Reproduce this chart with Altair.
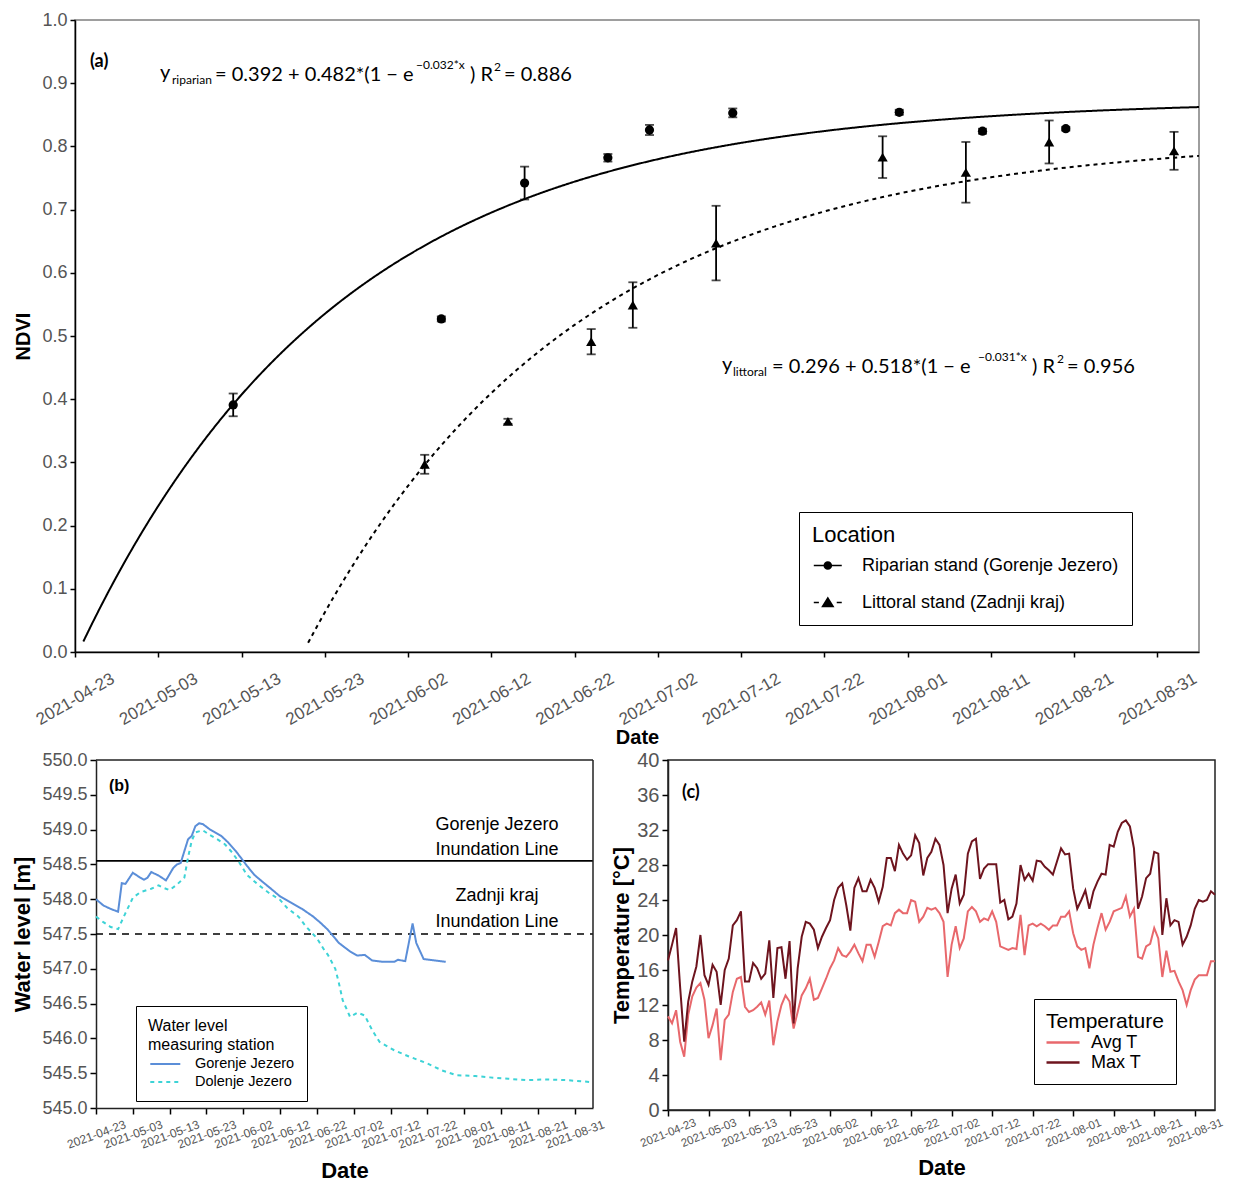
import altair as alt
import pandas as pd
import numpy as np

FONT = "Liberation Sans"
EQF = "Lato"

# ---------------- shared date axis ----------------
tick_labels = ["2021-04-23", "2021-05-03", "2021-05-13", "2021-05-23", "2021-06-02",
               "2021-06-12", "2021-06-22", "2021-07-02", "2021-07-12", "2021-07-22",
               "2021-08-01", "2021-08-11", "2021-08-21", "2021-08-31"]
date_start = "2021-04-23"
date_end = "2021-09-05"


def dt(s):
    return alt.DateTime(year=int(s[:4]), month=int(s[5:7]), date=int(s[8:10]), utc=True)


tick_vals = [dt(s) for s in tick_labels]
x_domain = [dt(date_start), dt(date_end)]
LABEL_EXPR = "utcFormat(datum.value, '%Y-%m-%d')"

# ---------------- panel (a): NDVI ----------------
RIP = "Riparian stand (Gorenje Jezero)"
LIT = "Littoral stand (Zadnji kraj)"
rip_dates = ["2021-05-12", "2021-06-06", "2021-06-16", "2021-06-26", "2021-07-01",
             "2021-07-11", "2021-07-31", "2021-08-10", "2021-08-20"]
rip_ndvi = [0.391, 0.527, 0.742, 0.782, 0.826, 0.853, 0.854, 0.824, 0.828]
rip_err = [0.018, 0.004, 0.026, 0.006, 0.008, 0.007, 0.004, 0.004, 0.003]
lit_dates = ["2021-06-04", "2021-06-14", "2021-06-24", "2021-06-29", "2021-07-09",
             "2021-07-29", "2021-08-08", "2021-08-18", "2021-09-02"]
lit_ndvi = [0.297, 0.365, 0.491, 0.549, 0.647, 0.783, 0.759, 0.807, 0.793]
lit_err = [0.015, 0.004, 0.020, 0.036, 0.059, 0.033, 0.048, 0.034, 0.030]

# fitted models printed on the chart: y = a + b*(1 - exp(-k*x)), x = days since first sampling
rip_model = {"a": 0.392, "b": 0.482, "k": 0.032, "t0": "2021-05-12", "from": -18, "to": 116}
lit_model = {"a": 0.296, "b": 0.518, "k": 0.031, "t0": "2021-06-04", "from": -14, "to": 93}

pts = pd.concat([
    pd.DataFrame({"date": rip_dates, "ndvi": rip_ndvi, "err": rip_err, "Location": RIP}),
    pd.DataFrame({"date": lit_dates, "ndvi": lit_ndvi, "err": lit_err, "Location": LIT}),
], ignore_index=True)
pts["lo"] = pts["ndvi"] - pts["err"]
pts["hi"] = pts["ndvi"] + pts["err"]


def model_curve(m, name):
    d = np.arange(m["from"], m["to"] + 1)
    dates = (pd.Timestamp(m["t0"]) + pd.to_timedelta(d, unit="D")).strftime("%Y-%m-%d")
    y = m["a"] + m["b"] * (1 - np.exp(-m["k"] * d))
    return pd.DataFrame({"date": dates, "ndvi": y, "Location": name})


curves = pd.concat([model_curve(rip_model, RIP), model_curve(lit_model, LIT)], ignore_index=True)

A_W, A_H = 1124, 632

xa = alt.X("date:T", scale=alt.Scale(type="utc", domain=x_domain),
           axis=alt.Axis(values=tick_vals, labelExpr=LABEL_EXPR, title="Date", grid=False,
                         labelAngle=-30, labelAlign="center", labelBaseline="middle",
                         labelPadding=42, labelFontSize=17, labelColor="#555555",
                         tickSize=5, tickWidth=1.5, tickColor="black",
                         domainColor="black", domainWidth=1.5,
                         titleFontSize=20, titleFontWeight="bold", titlePadding=0,
                         labelOverlap=False, labelFlush=False))
ya_axis = alt.Axis(values=[round(v * 0.1, 1) for v in range(11)], format=".1f", title="NDVI", grid=False,
                   labelFontSize=18, labelColor="#555555", tickSize=5, tickWidth=1.5,
                   tickColor="black", domainColor="black", domainWidth=1.5,
                   titleFontSize=20, titleFontWeight="bold", titlePadding=8, labelPadding=3)
ya_scale = alt.Scale(domain=[0, 1], nice=False, zero=False)

loc_dash = alt.StrokeDash("Location:N", scale=alt.Scale(domain=[RIP, LIT], range=[[1, 0], [4, 4]]),
                          legend=None)

curve_layer = alt.Chart(curves).mark_line(color="black", strokeWidth=2).encode(
    x=xa, y=alt.Y("ndvi:Q", scale=ya_scale, axis=ya_axis), strokeDash=loc_dash, detail="Location:N")

err_layer = alt.Chart(pts).mark_rule(color="black", strokeWidth=1.8).encode(
    x=xa, y=alt.Y("lo:Q", scale=ya_scale, axis=ya_axis), y2="hi:Q")
cap_lo = alt.Chart(pts).mark_tick(color="black", orient="horizontal", size=9, thickness=1.8).encode(
    x=xa, y=alt.Y("lo:Q", scale=ya_scale, axis=ya_axis))
cap_hi = alt.Chart(pts).mark_tick(color="black", orient="horizontal", size=9, thickness=1.8).encode(
    x=xa, y=alt.Y("hi:Q", scale=ya_scale, axis=ya_axis))

pt_layer = alt.Chart(pts).mark_point(filled=True, color="black", opacity=1).encode(
    x=xa, y=alt.Y("ndvi:Q", scale=ya_scale, axis=ya_axis),
    shape=alt.Shape("Location:N", scale=alt.Scale(domain=[RIP, LIT], range=["circle", "triangle-up"]),
                    legend=None),
    size=alt.Size("Location:N", scale=alt.Scale(domain=[RIP, LIT], range=[85, 105]), legend=None))

# legend-only layer: filled symbols drawing a line segment together with the marker
PATH_RIP = ("M-0.89,-0.09L0.26,-0.09L0.26,0.09L-0.89,0.09Z"
            "M1.2,-0.09L2.34,-0.09L2.34,0.09L1.2,0.09Z"
            "M1.23,0A0.5,0.5,0,1,1,0.23,0A0.5,0.5,0,1,1,1.23,0Z")
PATH_LIT = ("M-0.89,-0.09L-0.3,-0.09L-0.3,0.09L-0.89,0.09Z"
            "M1.76,-0.09L2.34,-0.09L2.34,0.09L1.76,0.09Z"
            "M0.73,-0.68L1.5,0.55L-0.04,0.55Z")
leg_layer = alt.Chart(pts).mark_point(filled=True, color="black", opacity=0, size=1).encode(
    x=xa, y=alt.Y("ndvi:Q", scale=ya_scale, axis=ya_axis),
    shape=alt.Shape("Location:N", scale=alt.Scale(domain=[RIP, LIT], range=[PATH_RIP, PATH_LIT]),
                    legend=alt.Legend(title="Location", orient="none", legendX=724, legendY=492,
                                      direction="vertical", strokeColor="black", fillColor="white",
                                      padding=13, titleFont=FONT, titleFontSize=22,
                                      titleFontWeight="normal", titleColor="black", titlePadding=9,
                                      labelFont=FONT, labelFontSize=18, labelColor="black",
                                      labelOffset=31, rowPadding=18, symbolSize=300,
                                      symbolFillColor="black", symbolOpacity=1, labelLimit=400)))


def label(s, x, y, size, font=EQF, weight="normal", align="left"):
    return alt.Chart(pd.DataFrame({"t": [s]})).mark_text(
        align=align, baseline="middle", font=font, fontSize=size, fontWeight=weight, color="black"
    ).encode(text="t:N", x=alt.value(x), y=alt.value(y))


a_texts = [
    label("(a)", 15, 42, 18, weight="bold"),
    label("y", 85, 53, 20), label("riparian", 97, 60, 12),
    label("= 0.392 + 0.482*(1 \u2212 e", 140, 55, 20), label("\u22120.032*x", 341, 45, 12),
    label(") R", 395, 55, 20), label("2", 419, 47, 12), label("= 0.886", 429, 55, 20),
    label("y", 647, 345, 20), label("littoral", 658, 352, 12),
    label("= 0.296 + 0.518*(1 \u2212 e", 697, 347, 20), label("\u22120.031*x", 903, 337, 12),
    label(") R", 957, 347, 20), label("2", 982, 339, 12), label("= 0.956", 992, 347, 20),
]

panel_a = alt.layer(curve_layer, err_layer, cap_lo, cap_hi, pt_layer, leg_layer, *a_texts).resolve_scale(
    shape="independent").properties(
    width=A_W, height=A_H, view=alt.ViewBackground(stroke="#7f7f7f", strokeWidth=1.5))

# ---------------- panel (b): water level ----------------
gor_dates = ["2021-04-23", "2021-04-25", "2021-04-27", "2021-04-29", "2021-04-30", "2021-05-01",
             "2021-05-03", "2021-05-05", "2021-05-06", "2021-05-07", "2021-05-08", "2021-05-10",
             "2021-05-12", "2021-05-14", "2021-05-15", "2021-05-16", "2021-05-18", "2021-05-19",
             "2021-05-20", "2021-05-21", "2021-05-22", "2021-05-24", "2021-05-25", "2021-05-27",
             "2021-05-29", "2021-05-31", "2021-06-01", "2021-06-03", "2021-06-05", "2021-06-07",
             "2021-06-10", "2021-06-12", "2021-06-15", "2021-06-18", "2021-06-21", "2021-06-23",
             "2021-06-25", "2021-06-28", "2021-07-01", "2021-07-03", "2021-07-05", "2021-07-07",
             "2021-07-10", "2021-07-13", "2021-07-14", "2021-07-16", "2021-07-18", "2021-07-19",
             "2021-07-21", "2021-07-24", "2021-07-27"]
gor_level = [548.00, 547.91, 547.86, 547.82, 548.23, 548.22, 548.38, 548.31, 548.28, 548.31,
             548.39, 548.34, 548.27, 548.45, 548.50, 548.52, 548.86, 548.91, 549.05, 549.09,
             549.08, 549.00, 548.97, 548.91, 548.81, 548.69, 548.62, 548.48, 548.35, 548.26,
             548.13, 548.04, 547.95, 547.86, 547.75, 547.66, 547.56, 547.37, 547.25, 547.19,
             547.20, 547.12, 547.10, 547.10, 547.13, 547.11, 547.65, 547.37, 547.14, 547.12,
             547.10]
dol_dates = ["2021-04-23", "2021-04-25", "2021-04-27", "2021-04-29", "2021-05-01", "2021-05-03",
             "2021-05-05", "2021-05-08", "2021-05-10", "2021-05-11", "2021-05-13", "2021-05-15",
             "2021-05-17", "2021-05-18", "2021-05-19", "2021-05-20", "2021-05-22", "2021-05-24",
             "2021-05-26", "2021-05-28", "2021-05-30", "2021-06-01", "2021-06-03", "2021-06-06",
             "2021-06-09", "2021-06-12", "2021-06-14", "2021-06-17", "2021-06-19", "2021-06-22",
             "2021-06-24", "2021-06-25", "2021-06-27", "2021-06-28", "2021-06-29", "2021-07-01",
             "2021-07-03", "2021-07-05", "2021-07-07", "2021-07-09", "2021-07-13", "2021-07-17",
             "2021-07-22", "2021-07-26", "2021-07-30", "2021-08-04", "2021-08-08", "2021-08-13",
             "2021-08-18", "2021-08-23", "2021-08-29", "2021-09-05"]
dol_level = [547.75, 547.67, 547.60, 547.57, 547.80, 548.02, 548.10, 548.15, 548.20, 548.17,
             548.13, 548.21, 548.31, 548.60, 548.84, 548.96, 548.99, 548.92, 548.86, 548.79,
             548.67, 548.52, 548.35, 548.21, 548.09, 547.99, 547.87, 547.75, 547.61, 547.44,
             547.27, 547.20, 547.00, 546.79, 546.55, 546.31, 546.37, 546.33, 546.12, 545.95,
             545.83, 545.74, 545.64, 545.54, 545.47, 545.46, 545.44, 545.42, 545.40, 545.41,
             545.40, 545.37]
gorenje_inundation = [548.55]
zadnji_inundation = [547.5]
GOR, DOL = "Gorenje Jezero", "Dolenje Jezero"
wl = pd.concat([
    pd.DataFrame({"date": gor_dates, "level": gor_level, "Station": GOR}),
    pd.DataFrame({"date": dol_dates, "level": dol_level, "Station": DOL}),
], ignore_index=True)

# panel (b) sits 21 px to the right of panel (a)'s left edge: its view starts at (a)'s edge,
# the plot frame starts at B_X0.
B_X0, B_W, B_H = 21, 497, 348
B_VIEW_W = B_X0 + B_W


def small_x(angle, pad, size, tpad, rng=None):
    sc = alt.Scale(type="utc", domain=x_domain, range=rng) if rng else alt.Scale(type="utc", domain=x_domain)
    return alt.X("date:T", scale=sc,
                 axis=alt.Axis(values=tick_vals, labelExpr=LABEL_EXPR, title="Date", grid=False,
                               labelAngle=angle, labelAlign="center", labelBaseline="middle",
                               labelPadding=pad, labelFontSize=size, labelColor="#555555",
                               tickSize=6, tickWidth=1.5, tickColor="black",
                               domainColor="#222222", domainWidth=1.5,
                               titleFontSize=22, titleFontWeight="bold", titlePadding=tpad,
                               labelOverlap=False, labelFlush=False))


xb = small_x(-20, 20, 12, 10, rng=[B_X0, B_VIEW_W])
yb_scale = alt.Scale(domain=[545, 550], nice=False, zero=False)
yb_axis = alt.Axis(values=[545 + 0.5 * i for i in range(11)], format=".1f", title="Water level [m]",
                   grid=False, labelFontSize=18, labelColor="#555555", tickSize=6, tickWidth=1.5,
                   tickColor="black", domainColor="#222222", domainWidth=1.5, offset=-B_X0,
                   titleFontSize=22, titleFontWeight="bold", titlePadding=7, labelPadding=3)

wl_legend = alt.Legend(title=["Water level", "measuring station"], orient="none",
                       legendX=B_X0 + 40, legendY=246,
                       direction="vertical", strokeColor="black", fillColor="white", padding=12,
                       titleFont=FONT, titleFontSize=16, titleFontWeight="normal", titleColor="black",
                       titleLineHeight=19, titlePadding=1,
                       labelFont=FONT, labelFontSize=14.5, labelColor="black", labelOffset=27,
                       rowPadding=1, symbolType="M-0.9,0L2.6,0", symbolSize=294, symbolStrokeWidth=2)

wl_layer = alt.Chart(wl).mark_line(strokeWidth=2).encode(
    x=xb, y=alt.Y("level:Q", scale=yb_scale, axis=yb_axis),
    color=alt.Color("Station:N", scale=alt.Scale(domain=[GOR, DOL], range=["#5b8ed8", "#3dd3d6"]),
                    legend=wl_legend),
    strokeDash=alt.StrokeDash("Station:N", scale=alt.Scale(domain=[GOR, DOL], range=[[1, 0], [4, 4]]),
                              legend=wl_legend),
)
inund_solid = alt.Chart(pd.DataFrame({"level": gorenje_inundation})).mark_rule(
    color="black", strokeWidth=1.6).encode(
    x=alt.value(B_X0), x2=alt.value(B_VIEW_W), y=alt.Y("level:Q", scale=yb_scale, axis=yb_axis))
inund_dash = alt.Chart(pd.DataFrame({"level": zadnji_inundation})).mark_rule(
    color="black", strokeWidth=1.6, strokeDash=[7, 6]).encode(
    x=alt.value(B_X0), x2=alt.value(B_VIEW_W), y=alt.Y("level:Q", scale=yb_scale, axis=yb_axis))
frame_top = alt.Chart(pd.DataFrame({"f": [0]})).mark_rule(color="#222222", strokeWidth=1.5).encode(
    x=alt.value(B_X0), x2=alt.value(B_VIEW_W), y=alt.value(0))
frame_right = alt.Chart(pd.DataFrame({"f": [0]})).mark_rule(color="#222222", strokeWidth=1.5).encode(
    x=alt.value(B_VIEW_W), y=alt.value(0), y2=alt.value(B_H))

b_texts = [
    label("(b)", B_X0 + 13, 26, 16, font=FONT, weight="bold"),
    label("Gorenje Jezero", B_X0 + 401, 65, 18, font=FONT, align="center"),
    label("Inundation Line", B_X0 + 401, 90, 18, font=FONT, align="center"),
    label("Zadnji kraj", B_X0 + 401, 136, 18, font=FONT, align="center"),
    label("Inundation Line", B_X0 + 401, 162, 18, font=FONT, align="center"),
]

panel_b = alt.layer(inund_solid, inund_dash, wl_layer, frame_top, frame_right, *b_texts).properties(
    width=B_VIEW_W, height=B_H, view=alt.ViewBackground(stroke="transparent"))

# ---------------- panel (c): temperature ----------------
temp_start = "2021-04-23"
avg_t = [10.7, 9.9, 11.4, 7.8, 6.1, 10.9, 13.0, 14.0, 14.5, 12.6,
         8.2, 9.7, 11.6, 5.7, 10.3, 10.9, 13.5, 15.0, 15.2, 11.8,
         11.2, 11.4, 11.8, 12.3, 10.9, 12.5, 7.4, 10.1, 12.0, 13.1,
         12.4, 9.3, 11.2, 13.1, 13.9, 15.0, 12.6, 12.8, 13.9, 15.0,
         16.2, 17.1, 18.5, 17.7, 17.5, 18.1, 18.9, 17.9, 17.0, 18.9,
         18.9, 17.5, 19.2, 21.0, 21.3, 21.1, 22.5, 22.9, 22.5, 22.5,
         24.0, 23.8, 21.5, 22.1, 23.1, 22.9, 23.1, 22.5, 21.5, 15.2,
         18.9, 21.0, 18.5, 19.6, 22.7, 23.2, 22.7, 21.5, 21.9, 21.7,
         22.7, 21.5, 18.7, 18.5, 18.3, 18.5, 18.4, 22.3, 17.7, 21.1,
         21.3, 21.0, 21.3, 21.0, 20.6, 21.1, 21.1, 22.1, 22.1, 22.7,
         20.2, 18.7, 18.3, 18.5, 16.2, 18.9, 20.8, 22.5, 20.6, 21.5,
         22.7, 22.9, 23.1, 24.4, 22.1, 23.0, 17.5, 17.3, 18.7, 19.0,
         20.8, 19.6, 15.2, 18.2, 15.8, 15.9, 14.7, 13.7, 12.0, 13.7,
         14.9, 15.4, 15.4, 15.4, 17.0, 17.0]
max_t = [17.1, 18.9, 20.8, 14.0, 7.8, 12.4, 14.7, 16.4, 20.0, 15.4,
         14.3, 16.6, 15.8, 12.0, 16.0, 17.3, 21.1, 21.7, 22.7, 14.7,
         14.7, 16.8, 16.2, 15.0, 15.6, 19.4, 12.8, 18.5, 18.6, 15.0,
         19.3, 9.9, 16.2, 19.8, 21.5, 21.3, 20.6, 18.5, 19.8, 20.8,
         21.7, 24.0, 25.4, 25.9, 23.4, 20.5, 25.4, 26.5, 25.0, 25.0,
         26.3, 25.4, 23.8, 25.5, 28.8, 28.8, 27.3, 30.3, 29.3, 28.6,
         29.1, 31.4, 30.5, 26.8, 28.8, 29.5, 31.0, 30.3, 28.0, 22.5,
         25.3, 26.9, 23.6, 24.6, 29.3, 30.7, 31.0, 26.4, 27.6, 28.1,
         28.1, 28.1, 23.7, 24.0, 21.8, 22.1, 23.6, 28.0, 26.3, 27.0,
         26.2, 28.5, 28.4, 27.8, 27.4, 26.9, 28.4, 29.9, 29.2, 29.3,
         25.3, 23.0, 24.0, 25.1, 23.0, 25.0, 26.1, 27.0, 26.9, 30.3,
         30.1, 31.8, 32.8, 33.1, 32.4, 29.9, 23.0, 24.4, 26.5, 27.0,
         29.5, 29.3, 20.0, 24.2, 21.1, 21.7, 21.5, 18.9, 19.8, 21.1,
         23.0, 24.0, 23.8, 24.0, 25.0, 24.6]
temp_dates = pd.date_range(temp_start, periods=len(avg_t), freq="D").strftime("%Y-%m-%d")
AVG, MAX = "Avg T", "Max T"
tdf = pd.concat([
    pd.DataFrame({"date": temp_dates, "temp": avg_t, "Temperature": AVG}),
    pd.DataFrame({"date": temp_dates, "temp": max_t, "Temperature": MAX}),
], ignore_index=True)

C_W, C_H = 547, 350
xc = small_x(-22, 17, 11.5, 8)
yc_axis = alt.Axis(values=list(range(0, 41, 4)), title="Temperature [\u00b0C]", grid=False,
                   labelFontSize=20, labelColor="#555555", tickSize=6, tickWidth=1.5,
                   tickColor="black", domainColor="#222222", domainWidth=1.5,
                   titleFontSize=22, titleFontWeight="bold", titlePadding=3, labelPadding=3)
t_legend = alt.Legend(title="Temperature", orient="none", legendX=366, legendY=239, direction="vertical",
                      strokeColor="black", fillColor="white", padding=12,
                      titleFont=FONT, titleFontSize=21, titleFontWeight="normal", titleColor="black",
                      titlePadding=0, labelFont=FONT, labelFontSize=18, labelColor="black",
                      labelOffset=24, rowPadding=0, symbolType="M-1.11,0L2.56,0", symbolSize=324,
                      symbolStrokeWidth=2.5)
t_layer = alt.Chart(tdf).mark_line(strokeWidth=2).encode(
    x=xc, y=alt.Y("temp:Q", scale=alt.Scale(domain=[0, 40], nice=False), axis=yc_axis),
    color=alt.Color("Temperature:N", scale=alt.Scale(domain=[AVG, MAX], range=["#e8686c", "#6e141e"]),
                    legend=t_legend))
c_texts = [label("(c)", 14, 33, 18, weight="bold")]
panel_c = alt.layer(t_layer, *c_texts).properties(
    width=C_W, height=C_H, view=alt.ViewBackground(stroke="#222222", strokeWidth=1.5))

bottom = alt.hconcat(panel_b, panel_c, spacing=4).resolve_scale(
    x="independent", y="independent", color="independent", strokeDash="independent")

chart = alt.vconcat(panel_a, bottom, spacing=0).resolve_scale(
    x="independent", y="independent", color="independent", strokeDash="independent", shape="independent",
    size="independent"
).properties(
    padding={"left": 3, "top": 2, "right": 0, "bottom": 0}
).configure_axis(grid=False, labelFont=FONT, titleFont=FONT, titleColor="black").configure(
    background="white")

chart.save("out.html", embed_options={"renderer": "svg", "actions": False})
